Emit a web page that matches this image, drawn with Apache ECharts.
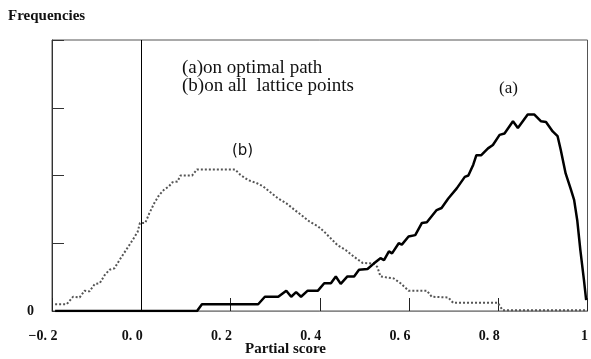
<!DOCTYPE html>
<html>
<head>
<meta charset="utf-8">
<script src="https://cdn.jsdelivr.net/npm/echarts@6/dist/echarts.min.js"></script>
<style>
  html, body { margin: 0; padding: 0; background: #fff; }
  #chart { width: 591px; height: 359px; }
</style>
</head>
<body>
<div id="chart"></div>
<script>
// (a) on optimal path
var aX = [-0.193, 0.125, 0.136, 0.262, 0.277, 0.307, 0.325, 0.336, 0.347, 0.358, 0.373, 0.396, 0.410, 0.425,
  0.436, 0.447, 0.462, 0.477, 0.488, 0.507, 0.521, 0.536, 0.544, 0.555, 0.562, 0.577, 0.584, 0.599, 0.614,
  0.629, 0.640, 0.662, 0.673, 0.688, 0.707, 0.725, 0.733, 0.744, 0.751, 0.762, 0.777, 0.788, 0.803, 0.814,
  0.833, 0.844, 0.866, 0.881, 0.896, 0.907, 0.922, 0.933, 0.940, 0.951, 0.962, 0.970, 0.977, 0.984, 0.992, 0.997];
var aY = [0, 0, 0.10, 0.10, 0.21, 0.21, 0.30, 0.21, 0.28, 0.21, 0.30, 0.30, 0.41, 0.41,
  0.51, 0.40, 0.51, 0.51, 0.61, 0.62, 0.70, 0.78, 0.75, 0.88, 0.85, 1.00, 0.98, 1.10, 1.12,
  1.30, 1.31, 1.49, 1.52, 1.66, 1.81, 1.98, 2.00, 2.16, 2.30, 2.30, 2.40, 2.45, 2.60, 2.62,
  2.80, 2.70, 2.90, 2.90, 2.80, 2.79, 2.65, 2.58, 2.38, 2.03, 1.81, 1.64, 1.34, 0.90, 0.46, 0.16];

// (b) on all lattice points
var bX = [-0.193, -0.167, -0.153, -0.138, -0.127, -0.116, -0.104, -0.093, -0.082, -0.071, -0.060, -0.049,
  -0.034, -0.019, -0.008, -0.003, 0.009, 0.018, 0.029, 0.040, 0.051, 0.062, 0.070, 0.081, 0.088, 0.114,
  0.125, 0.210, 0.222, 0.240, 0.258, 0.273, 0.288, 0.307, 0.325, 0.344, 0.358, 0.377, 0.396, 0.410, 0.425,
  0.440, 0.458, 0.477, 0.496, 0.521, 0.529, 0.536, 0.566, 0.581, 0.599, 0.640, 0.651, 0.688, 0.699, 0.799,
  0.810, 0.998];
var bY = [0.10, 0.10, 0.21, 0.20, 0.30, 0.29, 0.40, 0.41, 0.53, 0.61, 0.63, 0.75,
  0.90, 1.05, 1.17, 1.30, 1.30, 1.44, 1.59, 1.71, 1.79, 1.84, 1.90, 1.91, 2.00, 2.00,
  2.09, 2.09, 2.01, 1.93, 1.89, 1.84, 1.76, 1.66, 1.59, 1.49, 1.42, 1.32, 1.25, 1.17, 1.07,
  0.97, 0.90, 0.80, 0.71, 0.70, 0.65, 0.51, 0.48, 0.41, 0.30, 0.30, 0.21, 0.20, 0.12, 0.12,
  0.01, 0.01];

function zip(xs, ys) {
  return xs.map(function (x, i) { return [x, ys[i]]; });
}

var serif = '"Liberation Serif", "DejaVu Serif", serif';
var chart = echarts.init(document.getElementById('chart'));

chart.setOption({
  animation: false,
  backgroundColor: '#fff',
  grid: {
    left: 52,
    right: -1,
    top: 40,
    bottom: 48,
    show: true,
    borderColor: '#555',
    borderWidth: 1
  },
  xAxis: {
    type: 'value',
    min: -0.2,
    max: 1.0,
    interval: 0.2,
    axisLine: { show: true, onZero: false, lineStyle: { color: '#888', width: 1 } },
    axisTick: { show: true, inside: true, length: 13, lineStyle: { color: '#222' } },
    splitLine: { show: false },
    axisLabel: {
      margin: 18,
      showMaxLabel: true,
      showMinLabel: true,
      formatter: function (v) {
        if (Math.abs(v - 1) < 1e-6) return '{b|1}';
        var s = Math.abs(v).toFixed(1).replace('.', '. ');
        return '{a|' + (v < -1e-6 ? '\u2212' + s : s) + '}';
      },
      rich: {
        a: { fontFamily: serif, fontWeight: 'bold', fontSize: 14, color: '#111', padding: [0, 18, 0, 0] },
        b: { fontFamily: serif, fontWeight: 'bold', fontSize: 14, color: '#111', padding: [0, 6, 0, 0] }
      }
    }
  },
  yAxis: {
    type: 'value',
    min: 0,
    max: 4,
    interval: 1,
    axisLine: { show: true, onZero: false, lineStyle: { color: '#333', width: 1 } },
    axisTick: { show: true, inside: true, length: 12, lineStyle: { color: '#333' } },
    splitLine: { show: false },
    axisLabel: {
      margin: 18,
      fontFamily: serif,
      fontWeight: 'bold',
      fontSize: 14,
      color: '#111',
      formatter: function (v) { return v === 0 ? '0' : ''; }
    }
  },
  series: [
    {
      name: '(b)',
      type: 'line',
      data: zip(bX, bY),
      symbol: 'none',
      lineStyle: { color: '#555', width: 2, type: 'dotted' },
      z: 3
    },
    {
      name: '(a)',
      type: 'line',
      data: zip(aX, aY),
      symbol: 'none',
      lineStyle: { color: '#000', width: 2.5 },
      z: 4,
      markLine: {
        silent: true,
        symbol: 'none',
        label: { show: false },
        lineStyle: { color: '#000', width: 1, type: 'solid' },
        data: [{ xAxis: 0 }]
      }
    }
  ],
  graphic: [
    { type: 'text', left: 8, top: 9, style: { text: 'Frequencies', font: 'bold 15px ' + serif, fill: '#111' } },
    { type: 'text', left: 245, top: 342, style: { text: 'Partial score', font: 'bold 15px ' + serif, fill: '#111' } },
    { type: 'text', left: 182, top: 59, style: { text: '(a)on optimal path', font: '19px ' + serif, fill: '#111' } },
    { type: 'text', left: 182, top: 77, style: { text: '(b)on all  lattice points', font: '19px ' + serif, fill: '#111' } },
    { type: 'text', left: 499, top: 80, style: { text: '(a)', font: '17px ' + serif, fill: '#111' } },
    { type: 'text', left: 232, top: 144, style: { text: '(b)', font: '15px "DejaVu Sans", sans-serif', fill: '#111' } }
  ]
});
</script>
</body>
</html>
